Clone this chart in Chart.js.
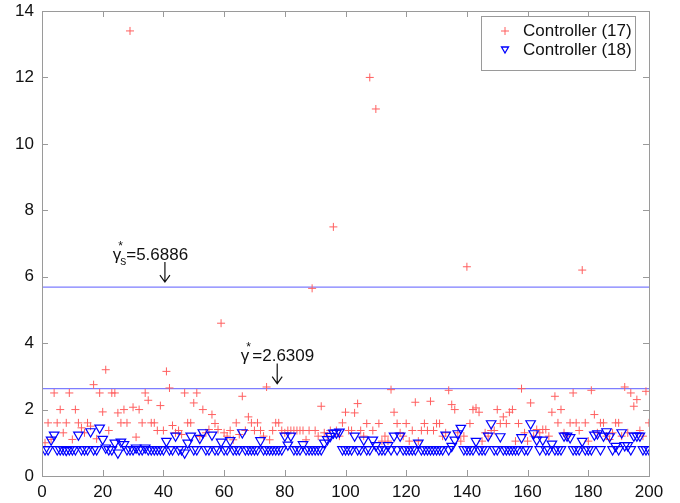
<!DOCTYPE html>
<html>
<head>
<meta charset="utf-8">
<script src="https://cdn.jsdelivr.net/npm/chart.js@4"></script>
<style>
  html, body { margin: 0; padding: 0; background: #fff; }
  #wrap { width: 680px; height: 503px; }
</style>
</head>
<body>
<div id="wrap"><canvas id="chart" width="680" height="503"></canvas></div>
<script>
// values, one per run 1..200
const ctrl17 = [
  1.0, 1.6, 1.1, 2.5, 1.6, 2.0, 1.3, 1.6, 2.5, 1.1,
  2.0, 1.6, 1.45, 1.3, 1.6, 1.5, 2.75, 1.12, 2.5, 1.93,
  3.2, 1.37, 2.5, 2.5, 1.9, 1.6, 2.0, 1.6, 13.4, 2.07,
  1.17, 2.0, 1.6, 2.5, 2.28, 1.6, 1.6, 1.37, 2.12, 1.37,
  3.15, 2.65, 1.52, 1.3, 1.37, 1.25, 2.5, 1.6, 1.6, 2.2,
  2.5, 1.19, 2.0, 1.3, 1.4, 1.85, 1.58, 1.4, 4.6, 1.3,
  1.2, 1.37, 1.09, 1.6, 1.25, 2.4, 1.37, 1.78, 1.6, 1.37,
  1.6, 1.37, 1.2, 2.68, 1.09, 1.37, 1.6, 1.6, 1.37, 1.3,
  1.37, 1.37, 1.37, 1.37, 1.37, 1.37, 1.09, 1.37, 5.65, 1.37,
  1.2, 2.1, 1.3, 1.2, 1.37, 7.5, 1.37, 1.2, 1.6, 1.92,
  1.37, 1.37, 1.9, 2.18, 1.37, 1.2, 1.58, 12.0, 1.37, 11.05,
  1.58, 1.05, 1.2, 1.05, 2.6, 1.92, 1.58, 1.3, 1.2, 1.58,
  1.05, 1.37, 2.22, 1.05, 1.37, 1.58, 1.37, 2.25, 1.37, 1.58,
  1.58, 1.2, 1.3, 2.58, 2.15, 2.0, 1.3, 1.05, 1.2, 6.3,
  1.58, 2.0, 2.05, 1.92, 1.05, 1.3, 1.2, 1.37, 1.37, 2.0,
  1.58, 1.78, 1.58, 1.92, 2.0, 1.05, 1.58, 2.63, 1.3, 1.05,
  2.2, 1.2, 1.4, 1.3, 1.4, 1.4, 1.2, 1.92, 2.4, 1.6,
  2.0, 1.3, 1.2, 1.6, 2.5, 1.6, 1.37, 6.2, 1.6, 1.05,
  2.58, 1.85, 1.3, 1.6, 1.6, 1.2, 1.1, 1.3, 1.6, 1.6,
  1.2, 2.68, 1.3, 2.5, 2.1, 2.3, 1.37, 1.2, 2.55, 1.6
];
const ctrl18 = [
  0.8, 0.8, 1.09, 1.24, 0.8, 0.8, 0.8, 0.78, 0.8, 0.8,
  0.8, 1.24, 0.8, 0.8, 0.8, 1.34, 0.8, 0.8, 1.45, 1.11,
  0.85, 0.8, 0.8, 1.0, 0.7, 1.03, 0.95, 0.8, 0.8, 0.8,
  0.85, 0.8, 0.8, 0.85, 0.8, 0.8, 0.8, 0.8, 0.8, 0.8,
  1.05, 0.8, 0.8, 1.21, 0.8, 0.8, 0.7, 1.0, 1.21, 0.8,
  0.8, 1.14, 1.31, 0.8, 0.8, 1.24, 0.8, 0.8, 1.03, 0.8,
  0.8, 1.07, 0.8, 0.8, 0.8, 1.31, 0.8, 0.8, 0.8, 0.8,
  0.8, 1.07, 0.8, 0.8, 0.8, 0.8, 0.8, 0.8, 0.8, 1.21,
  0.94, 1.21, 0.8, 0.8, 0.8, 0.95, 0.8, 0.8, 0.8, 0.8,
  0.8, 0.8, 1.0, 1.1, 1.2, 1.3, 1.3, 1.33, 0.8, 0.8,
  0.8, 0.8, 1.21, 0.8, 0.8, 1.09, 0.8, 0.8, 1.09, 0.92,
  0.8, 0.8, 0.8, 0.92, 0.8, 1.21, 0.8, 1.21, 0.8, 0.8,
  0.8, 0.8, 0.8, 1.0, 0.8, 0.8, 0.8, 0.8, 0.8, 0.8,
  0.8, 0.8, 1.24, 0.8, 0.9, 1.09, 1.28, 1.44, 0.8, 0.8,
  0.8, 0.8, 1.05, 0.8, 0.8, 0.8, 1.21, 1.58, 0.8, 0.8,
  1.19, 0.8, 0.8, 0.8, 0.8, 0.8, 0.8, 1.16, 0.8, 0.8,
  1.58, 1.28, 1.09, 0.8, 1.09, 0.8, 0.8, 0.97, 0.8, 0.8,
  0.8, 1.21, 1.21, 1.16, 0.8, 0.8, 0.8, 1.05, 0.8, 0.8,
  0.8, 1.24, 1.28, 0.8, 1.21, 1.34, 1.19, 0.8, 0.9, 0.8,
  1.31, 0.92, 0.92, 0.8, 1.21, 1.21, 1.21, 0.8, 0.8, 0.8
];
const gammaS = 5.6886;
const gamma = 2.6309;
const xTicks = [0, 20, 40, 60, 80, 100, 120, 140, 160, 180, 200];
const yTicks = [0, 2, 4, 6, 8, 10, 12, 14];

const FONT = '"Liberation Sans", Arial, Helvetica, sans-serif';
const RED = 'rgb(255, 95, 95)';
const BLUE = 'rgb(0, 0, 255)';
const LINE = 'rgb(125, 125, 255)';

const pts = vals => vals.map((v, i) => ({ x: i + 1, y: v }));

// MATLAB-style box with inward ticks, arrows/labels and a boxed legend
const matlabBox = {
  id: 'matlabBox',
  afterDraw(chart) {
    const { ctx, chartArea: a, scales: { x, y } } = chart;
    ctx.save();
    ctx.strokeStyle = '#9a9a9a';
    ctx.lineWidth = 1;
    ctx.strokeRect(a.left + 0.5, a.top + 0.5, a.right - a.left, a.bottom - a.top);
    ctx.beginPath();
    xTicks.forEach(t => {
      const px = Math.round(x.getPixelForValue(t)) + 0.5;
      ctx.moveTo(px, a.bottom); ctx.lineTo(px, a.bottom - 6);
      ctx.moveTo(px, a.top); ctx.lineTo(px, a.top + 6);
    });
    yTicks.forEach(t => {
      const py = Math.round(y.getPixelForValue(t)) + 0.5;
      ctx.moveTo(a.left, py); ctx.lineTo(a.left + 6, py);
      ctx.moveTo(a.right, py); ctx.lineTo(a.right - 6, py);
    });
    ctx.stroke();

    // annotations
    ctx.fillStyle = '#111';
    ctx.strokeStyle = '#111';
    ctx.lineWidth = 1.2;
    const arrow = (xv, yTop, yTip) => {
      const px = x.getPixelForValue(xv);
      ctx.beginPath();
      ctx.moveTo(px, yTop); ctx.lineTo(px, yTip);
      ctx.moveTo(px - 5, yTip - 7); ctx.lineTo(px, yTip); ctx.lineTo(px + 5, yTip - 7);
      ctx.stroke();
    };
    const label = (xv, baseY, sub, value) => {
      let px = x.getPixelForValue(xv);
      ctx.textBaseline = 'alphabetic';
      ctx.textAlign = 'left';
      ctx.font = '17px ' + FONT;
      ctx.fillText('\u03b3', px, baseY);
      const gw = ctx.measureText('\u03b3').width;
      ctx.font = '12px ' + FONT;
      ctx.fillText('*', px + gw - 3, baseY - 10);
      let w = gw;
      if (sub) {
        ctx.fillText(sub, px + gw - 1, baseY + 5);
        w += ctx.measureText(sub).width - 1;
      } else {
        w += 3;
      }
      ctx.font = '17px ' + FONT;
      ctx.fillText('=' + value, px + w, baseY);
    };
    const ySp = y.getPixelForValue(gammaS);
    label(23.3, ySp - 27, 's', gammaS.toFixed(4));
    arrow(40.5, ySp - 25, ySp - 5);
    const yP = y.getPixelForValue(gamma);
    label(65.5, yP - 28, '', gamma.toFixed(4));
    arrow(77.5, yP - 25, yP - 5);

    // legend
    const lx = a.right - 168, ly = a.top + 5, lw = 154, lh = 54;
    ctx.fillStyle = '#fff';
    ctx.fillRect(lx, ly, lw, lh);
    ctx.strokeStyle = '#9a9a9a';
    ctx.lineWidth = 1;
    ctx.strokeRect(lx + 0.5, ly + 0.5, lw, lh);
    const ds = chart.data.datasets;
    ctx.font = '17px ' + FONT;
    ctx.textBaseline = 'middle';
    ctx.fillStyle = '#111';
    ctx.fillText(ds[0].label, lx + 42, ly + 15);
    ctx.fillText(ds[1].label, lx + 42, ly + 34);
    ctx.strokeStyle = RED;
    ctx.beginPath();
    ctx.moveTo(lx + 24, ly + 11); ctx.lineTo(lx + 24, ly + 19);
    ctx.moveTo(lx + 20, ly + 15); ctx.lineTo(lx + 28, ly + 15);
    ctx.stroke();
    ctx.strokeStyle = BLUE;
    ctx.lineWidth = 1.3;
    ctx.beginPath();
    ctx.moveTo(lx + 20.5, ly + 31); ctx.lineTo(lx + 27.5, ly + 31); ctx.lineTo(lx + 24, ly + 37);
    ctx.closePath();
    ctx.stroke();
    ctx.restore();
  }
};

new Chart(document.getElementById('chart'), {
  type: 'scatter',
  data: {
    datasets: [
      {
        label: 'Controller (17)',
        data: pts(ctrl17),
        pointStyle: 'cross',
        pointRadius: 4,
        pointBorderWidth: 1,
        borderColor: RED,
        backgroundColor: RED,
        order: 2
      },
      {
        label: 'Controller (18)',
        data: pts(ctrl18),
        pointStyle: 'triangle',
        rotation: 180,
        pointRadius: 5.5,
        pointBorderWidth: 1.2,
        borderColor: BLUE,
        backgroundColor: 'rgba(0,0,0,0)',
        order: 1
      },
      {
        type: 'line',
        label: 'gammaS',
        data: [{ x: 0, y: gammaS }, { x: 200, y: gammaS }],
        borderColor: LINE,
        borderWidth: 1.2,
        pointRadius: 0,
        order: 3
      },
      {
        type: 'line',
        label: 'gamma',
        data: [{ x: 0, y: gamma }, { x: 200, y: gamma }],
        borderColor: LINE,
        borderWidth: 1.2,
        pointRadius: 0,
        order: 3
      }
    ]
  },
  options: {
    responsive: false,
    animation: false,
    layout: { padding: { top: 11, right: 31, left: 0, bottom: 0 } },
    plugins: {
      legend: { display: false },
      tooltip: { enabled: false }
    },
    scales: {
      x: {
        type: 'linear',
        min: 0,
        max: 200,
        afterBuildTicks: s => { s.ticks = xTicks.map(v => ({ value: v })); },
        afterFit: s => { s.height = 27; },
        grid: { display: false },
        border: { display: false },
        ticks: { color: '#111', padding: -2, font: { family: FONT, size: 17 } }
      },
      y: {
        type: 'linear',
        min: 0,
        max: 14,
        afterBuildTicks: s => { s.ticks = yTicks.map(v => ({ value: v })); },
        afterFit: s => { s.width = 42; },
        grid: { display: false },
        border: { display: false },
        ticks: { color: '#111', padding: 0, font: { family: FONT, size: 17 } }
      }
    }
  },
  plugins: [matlabBox]
});
</script>
</body>
</html>
